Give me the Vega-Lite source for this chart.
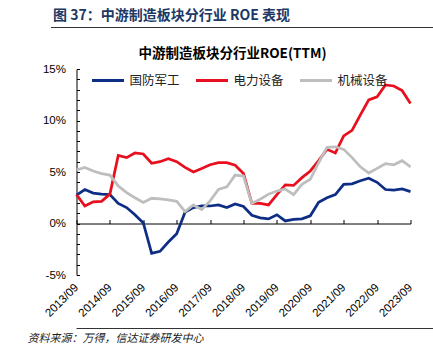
{
  "$schema": "https://vega.github.io/schema/vega-lite/v6.json",
  "padding": {"left": 25, "top": 9, "right": 0, "bottom": 0},
  "background": "white",
  "config": {"view": {"stroke": null}, "font": "Noto Sans CJK SC"},
  "spacing": 18,
  "center": true,
  "resolve": {"scale": {"color": "independent"}, "legend": {"color": "independent"}},
  "vconcat": [
    {
      "width": 408, "height": 1,
      "view": {"fill": "#333333", "stroke": null},
      "title": {"text": "图 37：中游制造板块分行业 ROE 表现", "anchor": "start", "fontSize": 14, "fontWeight": "bold", "color": "#203864", "offset": 4, "dx": 2, "font": "Noto Sans CJK SC"},
      "data": {"values": []}, "mark": "rule", "encoding": {}
    },
    {
      "spacing": 9,
      "resolve": {"scale": {"color": "independent"}, "legend": {"color": "independent"}},
      "vconcat": [
        {
          "width": 334, "height": 206,
          "title": {"text": "中游制造板块分行业ROE(TTM)", "fontSize": 13.5, "fontWeight": "bold", "color": "#000000", "frame": "group", "anchor": "middle", "dx": -11, "offset": 3, "font": "Noto Sans CJK SC"},
          "data": {"values": [
            {"q": "2013/09", "国防军工": 2.75, "电力设备": 2.8, "机械设备": 5.2},
            {"q": "2013/12", "国防军工": 3.3, "电力设备": 1.7, "机械设备": 5.45},
            {"q": "2014/03", "国防军工": 2.95, "电力设备": 2.1, "机械设备": 5.1},
            {"q": "2014/06", "国防军工": 2.85, "电力设备": 2.15, "机械设备": 4.85},
            {"q": "2014/09", "国防军工": 2.8, "电力设备": 2.85, "机械设备": 4.7},
            {"q": "2014/12", "国防军工": 1.95, "电力设备": 6.6, "机械设备": 3.65},
            {"q": "2015/03", "国防军工": 1.55, "电力设备": 6.4, "机械设备": 3.0},
            {"q": "2015/06", "国防军工": 0.85, "电力设备": 6.85, "机械设备": 2.5},
            {"q": "2015/09", "国防军工": 0.05, "电力设备": 6.75, "机械设备": 2.05},
            {"q": "2015/12", "国防军工": -2.9, "电力设备": 5.85, "机械设备": 2.45},
            {"q": "2016/03", "国防军工": -2.7, "电力设备": 6.0, "机械设备": 2.4},
            {"q": "2016/06", "国防军工": -1.8, "电力设备": 6.3, "机械设备": 2.3},
            {"q": "2016/09", "国防军工": -1.0, "电力设备": 6.0, "机械设备": 2.15},
            {"q": "2016/12", "国防军工": 1.1, "电力设备": 5.45, "机械设备": 1.15},
            {"q": "2017/03", "国防军工": 1.55, "电力设备": 5.0, "机械设备": 1.8},
            {"q": "2017/06", "国防军工": 1.7, "电力设备": 5.35, "机械设备": 1.35},
            {"q": "2017/09", "国防军工": 1.7, "电力设备": 5.7, "机械设备": 2.2},
            {"q": "2017/12", "国防军工": 1.8, "电力设备": 5.9, "机械设备": 3.3},
            {"q": "2018/03", "国防军工": 1.55, "电力设备": 5.9, "机械设备": 3.55},
            {"q": "2018/06", "国防军工": 1.9, "电力设备": 5.65, "机械设备": 4.7},
            {"q": "2018/09", "国防军工": 1.65, "电力设备": 4.85, "机械设备": 4.6},
            {"q": "2018/12", "国防军工": 0.8, "电力设备": 1.95, "机械设备": 1.95},
            {"q": "2019/03", "国防军工": 0.55, "电力设备": 1.95, "机械设备": 2.35},
            {"q": "2019/06", "国防军工": 0.45, "电力设备": 1.8, "机械设备": 2.85},
            {"q": "2019/09", "国防军工": 0.85, "电力设备": 2.8, "机械设备": 3.15},
            {"q": "2019/12", "国防军工": 0.25, "电力设备": 3.75, "机械设备": 3.35},
            {"q": "2020/03", "国防军工": 0.4, "电力设备": 3.7, "机械设备": 2.8},
            {"q": "2020/06", "国防军工": 0.45, "电力设备": 4.45, "机械设备": 3.8},
            {"q": "2020/09", "国防军工": 0.75, "电力设备": 5.1, "机械设备": 4.3},
            {"q": "2020/12", "国防军工": 2.05, "电力设备": 6.1, "机械设备": 5.9},
            {"q": "2021/03", "国防军工": 2.5, "电力设备": 7.2, "机械设备": 7.4},
            {"q": "2021/06", "国防军工": 2.8, "电力设备": 6.85, "机械设备": 7.45},
            {"q": "2021/09", "国防军工": 3.8, "电力设备": 8.5, "机械设备": 7.2},
            {"q": "2021/12", "国防军工": 3.85, "电力设备": 9.05, "机械设备": 6.4},
            {"q": "2022/03", "国防军工": 4.15, "电力设备": 10.55, "机械设备": 5.5},
            {"q": "2022/06", "国防军工": 4.4, "电力设备": 12.0, "机械设备": 4.9},
            {"q": "2022/09", "国防军工": 4.0, "电力设备": 12.3, "机械设备": 5.35},
            {"q": "2022/12", "国防军工": 3.3, "电力设备": 13.45, "机械设备": 5.8},
            {"q": "2023/03", "国防军工": 3.25, "电力设备": 13.35, "机械设备": 5.7},
            {"q": "2023/06", "国防军工": 3.35, "电力设备": 12.9, "机械设备": 6.1},
            {"q": "2023/09", "国防军工": 3.1, "电力设备": 11.65, "机械设备": 5.5}
          ]},
          "transform": [{"fold": ["国防军工", "电力设备", "机械设备"], "as": ["series", "roe"]}],
          "mark": {"type": "line", "strokeWidth": 2.75},
          "encoding": {
            "x": {
              "field": "q", "type": "ordinal",
              "scale": {"type": "point", "padding": 0},
              "axis": {
                "title": null,
                "values": ["2013/09", "2014/09", "2015/09", "2016/09", "2017/09", "2018/09", "2019/09", "2020/09", "2021/09", "2022/09", "2023/09"],
                "orient": "bottom", "offset": -51.5,
                "domain": true, "domainColor": "#000000", "domainWidth": 1,
                "ticks": true, "tickSize": -4, "tickColor": "#000000",
                "labelAngle": -45, "labelAlign": "right", "labelBaseline": "middle",
                "labelPadding": 66, "labelFont": "Liberation Sans", "labelFontSize": 11.5, "labelColor": "#000000",
                "grid": false
              }
            },
            "y": {
              "field": "roe", "type": "quantitative",
              "scale": {"domain": [-5, 15], "nice": false, "zero": false},
              "axis": {
                "title": null,
                "values": [-5, -4, -3, -2, -1, 0, 1, 2, 3, 4, 5, 6, 7, 8, 9, 10, 11, 12, 13, 14, 15],
                "labelExpr": "datum.value % 5 === 0 ? datum.value + '%' : ''",
                "labelOverlap": false,
                "tickSize": -3, "tickColor": "#000000", "labelPadding": 14,
                "domainColor": "#000000", "domainWidth": 1,
                "labelFont": "Liberation Sans", "labelFontSize": 11.5, "labelColor": "#000000",
                "grid": false, "minExtent": 51, "maxExtent": 51
              }
            },
            "color": {
              "field": "series", "type": "nominal",
              "scale": {"domain": ["国防军工", "电力设备", "机械设备"], "range": ["#0E2D84", "#E8101E", "#BEBEBE"]},
              "legend": {
                "orient": "none", "legendX": 14, "legendY": -6, "direction": "horizontal", "title": null,
                "symbolType": "stroke", "symbolSize": 1024, "symbolStrokeWidth": 3,
                "labelFont": "Noto Sans CJK SC", "labelFontSize": 12.5, "labelColor": "#222222",
                "labelOffset": 4, "columnPadding": 9
              }
            }
          }
        },
        {
          "width": 357, "height": 1,
          "view": {"fill": "#333333", "stroke": null},
          "title": {"text": "资料来源：万得，信达证券研发中心", "orient": "bottom", "anchor": "start", "fontSize": 11, "fontStyle": "italic", "fontWeight": "normal", "color": "#222222", "offset": 4, "dx": -49, "font": "Noto Sans CJK SC"},
          "data": {"values": []}, "mark": "rule", "encoding": {}
        }
      ]
    }
  ]
}
